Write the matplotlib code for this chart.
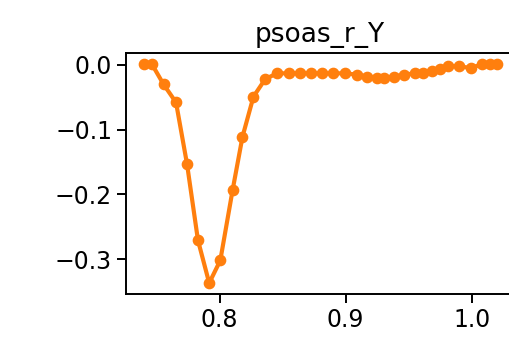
import numpy as np
import matplotlib
matplotlib.use("Agg")
import matplotlib.pyplot as plt

# values
x_vals = [0.7398, 0.7464, 0.7556, 0.7655, 0.7742, 0.7829, 0.7918, 0.8006, 0.8103,
          0.8182, 0.8269, 0.8362, 0.8455, 0.8547, 0.8639, 0.8727, 0.8811, 0.8903,
          0.8996, 0.9089, 0.9173, 0.9247, 0.9305, 0.9387, 0.9464, 0.9551, 0.9617,
          0.9683, 0.9749, 0.9815, 0.9902, 0.9992, 1.0079, 1.0145, 1.0198]
y_vals = [0.001, 0.001, -0.030, -0.058, -0.153, -0.271, -0.337, -0.302, -0.194,
          -0.111, -0.049, -0.022, -0.013, -0.013, -0.013, -0.013, -0.013, -0.013,
          -0.013, -0.015, -0.018, -0.020, -0.020, -0.018, -0.015, -0.013, -0.012,
          -0.009, -0.007, -0.002, -0.002, -0.005, 0.001, 0.001, 0.001]
title = "psoas_r_Y"

fig = plt.figure(figsize=(5.1, 3.37), dpi=100)
ax = fig.add_axes([0.247, 0.1276, 0.7616, 0.7142])

ax.plot(x_vals, y_vals, color="#ff7f0e", linewidth=3.0, marker="o", markersize=7.4)

ax.set_xticks([0.8, 0.9, 1.0])
ax.set_yticks([0.0, -0.1, -0.2, -0.3])
ax.tick_params(labelsize=17, length=6.5, width=1.4)
for s in ax.spines.values():
    s.set_linewidth(1.4)
ax.set_title(title, fontsize=19, pad=8)

fig.savefig("out.png", dpi=100)
